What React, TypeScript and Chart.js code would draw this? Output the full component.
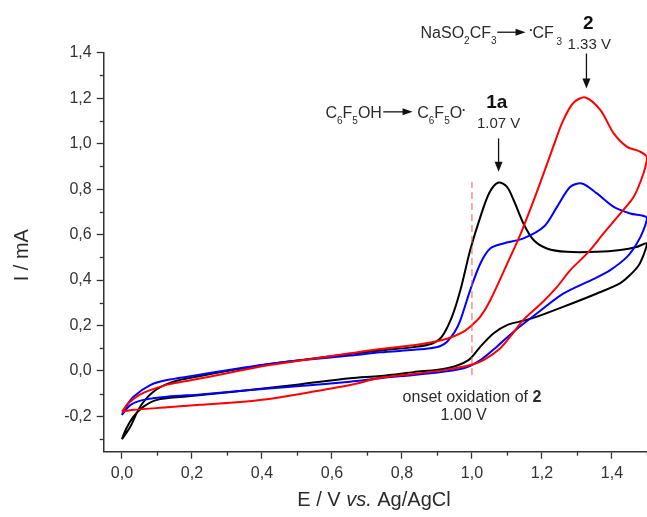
import React, { useEffect, useRef } from 'react';
import { Chart, registerables } from 'chart.js';
Chart.register(...registerables);

const FONT = '"Liberation Sans", Arial, Helvetica, sans-serif';
const TEXT = '#2b2b2b';

// ---- axis ticks ----
const X_MIN = -0.052;
const X_MAX = 1.5;
const Y_MIN = -0.355;
const Y_MAX = 1.4;
const X_MINOR = [0.1, 0.3, 0.5, 0.7, 0.9, 1.1, 1.3, 1.5];
const Y_MINOR = [-0.3, -0.1, 0.1, 0.3, 0.5, 0.7, 0.9, 1.1, 1.3];

// ---- black CV (1a) : forward then reverse ----
const blackE = [0, 0.024, 0.052, 0.09, 0.147, 0.224, 0.32, 0.42, 0.52, 0.65, 0.738, 0.833, 0.885, 0.914, 0.943, 0.967, 0.995, 1.024, 1.05, 1.076, 1.1, 1.119, 1.147, 1.176, 1.214, 1.271, 1.357, 1.424, 1.47, 1.5,
  1.49, 1.475, 1.45, 1.424, 1.357, 1.262, 1.186, 1.147, 1.1, 1.062, 1.024, 0.99, 0.929, 0.833, 0.738, 0.652, 0.5, 0.319, 0.176, 0.1, 0.062, 0.033, 0.012, 0];
const blackI = [-0.3, -0.245, -0.157, -0.091, -0.047, -0.022, 0.005, 0.03, 0.05, 0.075, 0.09, 0.105, 0.12, 0.151, 0.239, 0.356, 0.532, 0.678, 0.785, 0.829, 0.81, 0.752, 0.649, 0.576, 0.539, 0.524, 0.524, 0.532, 0.545, 0.562,
  0.51, 0.462, 0.42, 0.387, 0.341, 0.283, 0.239, 0.221, 0.202, 0.166, 0.107, 0.048, 0.012, -0.005, -0.022, -0.032, -0.06, -0.091, -0.113, -0.127, -0.157, -0.201, -0.255, -0.3];

// ---- red CV (2) ----
const redE = [0, 0.02, 0.05, 0.081, 0.13, 0.2, 0.3, 0.414, 0.52, 0.652, 0.738, 0.833, 0.881, 0.929, 0.967, 0.995, 1.024, 1.052, 1.1, 1.138, 1.186, 1.205, 1.233, 1.26, 1.29, 1.324, 1.367, 1.405, 1.443, 1.48, 1.5,
  1.49, 1.462, 1.424, 1.376, 1.329, 1.281, 1.243, 1.2, 1.147, 1.119, 1.081, 1.033, 0.995, 0.929, 0.833, 0.738, 0.652, 0.509, 0.414, 0.319, 0.224, 0.129, 0.033, 0];
const redI = [-0.179, -0.14, -0.105, -0.084, -0.06, -0.04, -0.01, 0.024, 0.048, 0.078, 0.097, 0.113, 0.125, 0.142, 0.165, 0.195, 0.239, 0.31, 0.47, 0.6, 0.79, 0.87, 0.99, 1.1, 1.18, 1.203, 1.147, 1.045, 0.986, 0.965, 0.94,
  0.87, 0.766, 0.693, 0.605, 0.517, 0.444, 0.37, 0.3, 0.225, 0.17, 0.1, 0.048, 0.026, 0.006, -0.013, -0.03, -0.062, -0.101, -0.124, -0.139, -0.149, -0.16, -0.171, -0.179];

// ---- blue CV (mixture) ----
const blueE = [0, 0.01, 0.033, 0.081, 0.129, 0.2, 0.319, 0.414, 0.509, 0.652, 0.738, 0.833, 0.881, 0.91, 0.929, 0.95, 0.967, 0.995, 1.024, 1.052, 1.09, 1.147, 1.205, 1.243, 1.281, 1.314, 1.357, 1.405, 1.452, 1.5,
  1.49, 1.471, 1.443, 1.395, 1.348, 1.262, 1.186, 1.119, 1.071, 1.024, 0.976, 0.881, 0.738, 0.652, 0.509, 0.367, 0.224, 0.129, 0.062, 0.024, 0];
const blueI = [-0.193, -0.16, -0.113, -0.062, -0.04, -0.022, 0.008, 0.03, 0.047, 0.068, 0.082, 0.093, 0.1, 0.11, 0.129, 0.17, 0.224, 0.356, 0.473, 0.539, 0.561, 0.583, 0.634, 0.722, 0.81, 0.825, 0.781, 0.722, 0.693, 0.675,
  0.62, 0.561, 0.502, 0.444, 0.405, 0.341, 0.254, 0.173, 0.107, 0.048, 0.012, -0.01, -0.032, -0.047, -0.066, -0.084, -0.103, -0.113, -0.127, -0.15, -0.193];

// ---- onset marker ----
const onsetE = [1.0, 1.0];
const onsetI = [-0.018, 0.832];

const pts = (xs: number[], ys: number[]) => xs.map((x, i) => ({ x, y: ys[i] }));

type Part = { t: string; size: number; bold?: boolean; italic?: boolean; dy?: number };

function fontOf(p: Part) {
  return `${p.italic ? 'italic ' : ''}${p.bold ? 'bold ' : ''}${p.size}px ${FONT}`;
}

function drawRich(ctx: CanvasRenderingContext2D, x: number, y: number, parts: Part[], align: 'left' | 'center') {
  let w = 0;
  for (const p of parts) {
    ctx.font = fontOf(p);
    w += ctx.measureText(p.t).width;
  }
  let cx = align === 'center' ? x - w / 2 : x;
  ctx.textAlign = 'left';
  ctx.textBaseline = 'alphabetic';
  for (const p of parts) {
    ctx.font = fontOf(p);
    ctx.fillText(p.t, cx, y + (p.dy || 0));
    cx += ctx.measureText(p.t).width;
  }
}

function arrowV(ctx: CanvasRenderingContext2D, x: number, y1: number, y2: number) {
  ctx.beginPath();
  ctx.moveTo(x, y1);
  ctx.lineTo(x, y2 - 8);
  ctx.stroke();
  ctx.beginPath();
  ctx.moveTo(x - 4, y2 - 10);
  ctx.lineTo(x + 4, y2 - 10);
  ctx.lineTo(x, y2);
  ctx.closePath();
  ctx.fill();
}

function arrowH(ctx: CanvasRenderingContext2D, x1: number, x2: number, y: number) {
  ctx.beginPath();
  ctx.moveTo(x1, y);
  ctx.lineTo(x2 - 8, y);
  ctx.stroke();
  ctx.beginPath();
  ctx.moveTo(x2 - 10, y - 3.5);
  ctx.lineTo(x2 - 10, y + 3.5);
  ctx.lineTo(x2, y);
  ctx.closePath();
  ctx.fill();
}

const SUB = 10;
const SUBDY = 6;

const decor = {
  id: 'decor',
  afterDraw(chart: any) {
    const { ctx, chartArea } = chart;
    const xs = chart.scales.x;
    const ys = chart.scales.y;
    const X = (v: number) => xs.getPixelForValue(v);
    const Y = (v: number) => ys.getPixelForValue(v);
    ctx.save();
    // minor ticks
    ctx.strokeStyle = '#333';
    ctx.lineWidth = 1.3;
    for (const v of X_MINOR) {
      const px = Math.round(X(v)) + 0.5;
      ctx.beginPath();
      ctx.moveTo(px, chartArea.bottom);
      ctx.lineTo(px, chartArea.bottom + 4);
      ctx.stroke();
    }
    for (const v of Y_MINOR) {
      const py = Math.round(Y(v)) + 0.5;
      ctx.beginPath();
      ctx.moveTo(chartArea.left, py);
      ctx.lineTo(chartArea.left - 4, py);
      ctx.stroke();
    }

    ctx.fillStyle = TEXT;
    // axis titles
    drawRich(ctx, X(0.72), chartArea.bottom + 54, [
      { t: 'E / V ', size: 20 },
      { t: 'vs.', size: 20, italic: true },
      { t: ' Ag/AgCl', size: 20 },
    ], 'center');
    ctx.save();
    ctx.translate(22, (chartArea.top + chartArea.bottom) / 2 + 3);
    ctx.rotate(-Math.PI / 2);
    ctx.font = `20px ${FONT}`;
    ctx.textAlign = 'center';
    ctx.textBaseline = 'middle';
    ctx.fillText('I / mA', 0, 0);
    ctx.restore();

    // annotations
    ctx.strokeStyle = '#111';
    ctx.fillStyle = '#111';
    ctx.lineWidth = 1.3;
    arrowV(ctx, X(1.076), Y(1.023), Y(0.876));
    arrowV(ctx, X(1.327), Y(1.3965), Y(1.2426));
    arrowH(ctx, X(0.7466), X(0.8303), Y(1.1398));
    arrowH(ctx, X(1.0723), X(1.1531), Y(1.4901));

    ctx.fillStyle = TEXT;
    drawRich(ctx, X(0.5814), Y(1.111), [
      { t: 'C', size: 16 }, { t: '6', size: SUB, dy: SUBDY }, { t: 'F', size: 16 }, { t: '5', size: SUB, dy: SUBDY }, { t: 'OH', size: 16 },
    ], 'left');
    drawRich(ctx, X(0.8437), Y(1.111), [
      { t: 'C', size: 16 }, { t: '6', size: SUB, dy: SUBDY }, { t: 'F', size: 16 }, { t: '5', size: SUB, dy: SUBDY }, { t: 'O', size: 16 }, { t: '•', size: 8, dy: -6 },
    ], 'left');
    drawRich(ctx, X(0.8531), Y(1.4668), [
      { t: 'NaSO', size: 16 }, { t: '2', size: SUB, dy: SUBDY }, { t: 'CF', size: 16 }, { t: '3', size: SUB, dy: SUBDY },
    ], 'left');
    drawRich(ctx, X(1.1646), Y(1.4668), [
      { t: '•', size: 8, dy: -6 }, { t: 'CF', size: 16 }, { t: ' 3', size: SUB, dy: SUBDY + 1 },
    ], 'left');

    ctx.fillStyle = '#111';
    drawRich(ctx, X(1.071), Y(1.1547), [{ t: '1a', size: 19, bold: true }], 'center');
    drawRich(ctx, X(1.332), Y(1.5055), [{ t: '2', size: 19, bold: true }], 'center');
    ctx.fillStyle = TEXT;
    drawRich(ctx, X(1.076), Y(1.0695), [{ t: '1.07 V', size: 15 }], 'center');
    drawRich(ctx, X(1.335), Y(1.415), [{ t: '1.33 V', size: 15 }], 'center');
    drawRich(ctx, X(1.0), Y(-0.135), [
      { t: 'onset oxidation of ', size: 16 }, { t: '2', size: 16, bold: true },
    ], 'center');
    drawRich(ctx, X(0.976), Y(-0.2154), [{ t: '1.00 V', size: 16 }], 'center');
    ctx.restore();
  },
};

const fmt = (v: number) => (Math.abs(v) < 1e-9 ? '0,0' : v.toFixed(1).replace('.', ','));

export default function App() {
  const ref = useRef<HTMLCanvasElement | null>(null);
  useEffect(() => {
    if (!ref.current) return;
    const line = (xs: number[], ys: number[], color: string) => ({
      data: pts(xs, ys),
      borderColor: color,
      backgroundColor: color,
      borderWidth: 2,
      showLine: true,
      pointRadius: 0,
      tension: 0.3,
      fill: false,
    });
    const chart = new Chart(ref.current, {
      type: 'scatter',
      data: {
        datasets: [
          {
            data: pts(onsetE, onsetI),
            borderColor: '#f25555',
            borderWidth: 1,
            borderDash: [7, 4],
            showLine: true,
            pointRadius: 0,
            fill: false,
          } as any,
          line(redE, redI, '#ff0000'),
          line(blueE, blueI, '#0000ff'),
          line(blackE, blackI, '#000000'),
        ],
      },
      options: {
        animation: false,
        responsive: false,
        devicePixelRatio: 1,
        events: [],
        layout: { padding: { top: 52.7, left: 0, right: 0, bottom: 0 } },
        plugins: { legend: { display: false }, tooltip: { enabled: false } },
        scales: {
          x: {
            type: 'linear',
            min: X_MIN,
            max: X_MAX,
            afterFit: (s: any) => { s.height = 65.3; },
            border: { display: true, color: '#333', width: 1.5 },
            grid: { drawOnChartArea: false, drawTicks: true, tickLength: 7, tickColor: '#333', tickWidth: 1.3 },
            ticks: {
              stepSize: 0.2,
              includeBounds: false,
              maxRotation: 0,
              autoSkip: false,
              padding: 5,
              color: '#333',
              font: { family: FONT, size: 16 },
              callback: (v: any) => fmt(Number(v)),
            },
          },
          y: {
            type: 'linear',
            min: Y_MIN,
            max: Y_MAX,
            afterFit: (s: any) => { s.width = 103.7; },
            border: { display: true, color: '#333', width: 1.5 },
            grid: { drawOnChartArea: false, drawTicks: true, tickLength: 7, tickColor: '#333', tickWidth: 1.3 },
            ticks: {
              stepSize: 0.2,
              includeBounds: false,
              autoSkip: false,
              padding: 5,
              color: '#333',
              font: { family: FONT, size: 16 },
              callback: (v: any) => fmt(Number(v)),
            },
          },
        },
      },
      plugins: [decor],
    });
    return () => chart.destroy();
  }, []);
  return (
    <div style={{ position: 'fixed', left: 0, top: 0, width: 647, height: 517, background: '#fff' }}>
      <canvas ref={ref} width={647} height={517} style={{ width: 647, height: 517, display: 'block' }} />
    </div>
  );
}
